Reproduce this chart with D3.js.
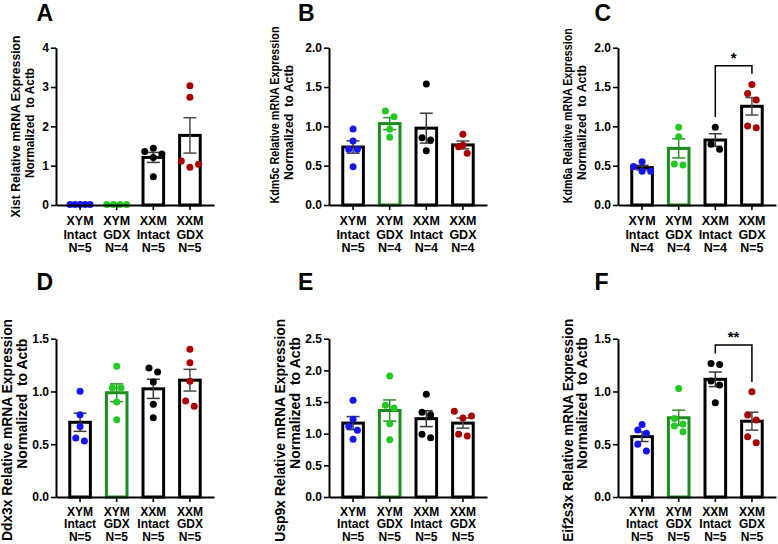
<!DOCTYPE html>
<html><head><meta charset="utf-8">
<script src="https://cdn.jsdelivr.net/npm/d3@7"></script>
<style>
body{margin:0;background:#fff}
svg{display:block}
text{font-family:"Liberation Sans",Arial,Helvetica,sans-serif;font-weight:bold;fill:#000}
</style>
</head><body>
<svg id="chart" width="778" height="544"></svg>
<script>
// ---------------- DATA ----------------
const groupNames = ["XYM Intact", "XYM GDX", "XXM Intact", "XXM GDX"];
const groupLine1 = ["XYM", "XYM", "XXM", "XXM"];
const groupLine2 = ["Intact", "GDX", "Intact", "GDX"];
const panelLetters = ["A", "B", "C", "D", "E", "F"];
const genes = ["Xist", "Kdm5c", "Kdm6a", "Ddx3x", "Usp9x", "Eif2s3x"];
const sampleSizes = [
  [5, 4, 5, 5], [5, 4, 4, 4], [4, 4, 4, 5],
  [5, 5, 5, 5], [5, 5, 5, 5], [5, 5, 5, 5]
];
const yMaxes = [4, 2, 2, 1.5, 2.5, 1.5];
const yTickValues = [
  [0, 1, 2, 3, 4],
  [0, 0.5, 1, 1.5, 2],
  [0, 0.5, 1, 1.5, 2],
  [0, 0.5, 1, 1.5],
  [0, 0.5, 1, 1.5, 2, 2.5],
  [0, 0.5, 1, 1.5]
];

// individual animals (per group)
const xistPoints = [
  [0.01, 0.01, 0.01, 0.01, 0.01],
  [0.01, 0.01, 0.01, 0.01],
  [1.44, 1.36, 1.30, 1.21, 0.72],
  [3.03, 2.74, 1.12, 1.035, 0.96]
];
const kdm5cPoints = [
  [0.966, 0.813, 0.71, 0.71, 0.487],
  [1.194, 1.122, 0.962, 0.86],
  [1.537, 0.855, 0.826, 0.69],
  [0.90, 0.76, 0.74, 0.657]
];
const kdm6aPoints = [
  [0.55, 0.49, 0.43, 0.43],
  [0.987, 0.868, 0.52, 0.508],
  [0.987, 0.771, 0.708],
  [1.533, 1.419, 1.334, 1.004, 0.983]
];
const ddx3xPoints = [
  [1.001, 0.779, 0.669, 0.559, 0.53],
  [1.238, 1.035, 1.035, 0.90, 0.732],
  [1.222, 1.184, 1.089, 0.878, 0.751],
  [1.399, 1.272, 1.096, 0.909, 0.859]
];
const usp9xPoints = [
  [1.527, 1.227, 1.117, 1.054, 0.911],
  [1.911, 1.448, 1.406, 1.158, 0.905],
  [1.622, 1.338, 1.30, 0.99, 0.937],
  [1.353, 1.28, 1.248, 0.99, 0.963]
];
const eif2s3xPoints = [
  [0.688, 0.634, 0.603, 0.499, 0.436],
  [1.029, 0.745, 0.691, 0.672, 0.618],
  [1.266, 1.256, 1.098, 1.061, 0.893],
  [0.997, 0.777, 0.729, 0.571, 0.514]
];
const pointSets = [xistPoints, kdm5cPoints, kdm6aPoints, ddx3xPoints, usp9xPoints, eif2s3xPoints];

// bar heights (mean) and error bars (SEM)
const barMeans = [
  [0.01, 0.01, 1.21, 1.77],
  [0.737, 1.035, 0.977, 0.764],
  [0.475, 0.72, 0.826, 1.255],
  [0.708, 0.988, 1.025, 1.107],
  [1.167, 1.366, 1.237, 1.167],
  [0.572, 0.751, 1.115, 0.718]
];
const barSems = [
  [0.002, 0.002, 0.127, 0.45],
  [0.078, 0.076, 0.19, 0.05],
  [0.029, 0.122, 0.08, 0.111],
  [0.086, 0.084, 0.091, 0.103],
  [0.103, 0.167, 0.125, 0.08],
  [0.046, 0.072, 0.069, 0.085]
];

// significance brackets: panel, groups, bar level, leg ends, label
const brackets = [
  {panel: 2, from: 2, to: 3, level: 1.77, leftEnd: 1.12, rightEnd: 1.67, label: "*"},
  {panel: 5, from: 2, to: 3, level: 1.44, leftEnd: 1.36, rightEnd: 1.09, label: "**"}
];

// ---------------- STYLE / LAYOUT ----------------
const pointColors = ["#1414f5", "#24c824", "#000000", "#a80000"];
const barStroke = ["#000000", "#1c8c1c", "#000000", "#000000"];
const errColor = ["#3a3a3a", "#2a8f2a", "#3a3a3a", "#4a4a4a"];
const colAxisX = [56, 329, 618];
const plotW = 158;
const rowY0 = [205, 497];
const rowY1 = [47.7, 338.7];
const letterBase = [20.7, 290.3];
const letterX = [36.5, 298, 594.5];
// y-title layout per panel: x of each line, centre (y) and drawn length of each line
const titleX = [[15.5, 29.5], [274.5, 288.5], [568, 582], [7, 22], [280.5, 295], [568, 582]];
const titleCY = [[126.5, 123], [115, 122.5], [115.8, 122.5], [430, 403.7], [430.3, 403], [430.3, 403]];
const titleLen = [[182, 110], [177, 115], [175, 115], [222, 130], [223, 132], [223, 132]];
const titleSize = [12, 13.8];
const catBase = [[20.3, 33.5, 46.7], [18.6, 31.3, 44]];
const catSize = [12.5, 12];

const svg = d3.select("#chart");

function swarm(vals, y, spacing, maxHalf, diam) {
  // Prism-like row layout: points close in y share a row, spread horizontally
  const idx = vals.map((v, i) => i).sort((a, b) => vals[a] - vals[b]);
  const rows = [];
  let cur = null;
  idx.forEach(i => {
    if (cur && Math.abs(y(vals[i]) - y(vals[cur[0]])) < diam) cur.push(i);
    else { cur = [i]; rows.push(cur); }
  });
  const off = new Array(vals.length).fill(0);
  rows.forEach(r => {
    const k = r.length;
    const slots = d3.range(k).map(j => (j - (k - 1) / 2) * spacing);
    slots.sort((a, b) => Math.abs(a) - Math.abs(b) || b - a);
    let s = 1;
    const m = d3.max(slots, Math.abs);
    if (m > maxHalf) s = maxHalf / m;
    r.forEach((i, j) => off[i] = slots[j] * s);
  });
  return off;
}

for (let p = 0; p < 6; p++) {
  const row = Math.floor(p / 3), col = p % 3;
  const ax = colAxisX[col];
  const y0 = rowY0[row], y1 = rowY1[row];
  const g = svg.append("g");

  const x = d3.scaleBand().domain(groupNames).range([ax, ax + plotW])
    .paddingInner(0.437).paddingOuter(0.376);
  const y = d3.scaleLinear().domain([0, yMaxes[p]]).range([y0, y1]);
  const bw = x.bandwidth();

  // bars
  g.selectAll("rect.bar").data(groupNames).join("rect")
    .attr("x", d => x(d)).attr("width", bw)
    .attr("y", (d, i) => y(barMeans[p][i]))
    .attr("height", (d, i) => y0 - y(barMeans[p][i]))
    .attr("fill", "#fff")
    .attr("stroke", (d, i) => barStroke[i]).attr("stroke-width", 3);

  // error bars
  groupNames.forEach((gn, i) => {
    const cx = x(gn) + bw / 2;
    const m = barMeans[p][i], s = barSems[p][i];
    const eg = g.append("g").attr("stroke", errColor[i]).attr("stroke-width", 1.5).attr("fill", "none");
    eg.append("line").attr("x1", cx).attr("x2", cx).attr("y1", y(m - s)).attr("y2", y(m + s));
    [m - s, m + s].forEach(v => eg.append("line")
      .attr("x1", cx - 6.5).attr("x2", cx + 6.5).attr("y1", y(v)).attr("y2", y(v)));
  });

  // points
  groupNames.forEach((gn, i) => {
    const vals = pointSets[p][i];
    const cx = x(gn) + bw / 2;
    const off = swarm(vals, y, 8.6, 10, 7);
    g.selectAll(null).data(vals).join("circle")
      .attr("cx", (d, j) => cx + off[j]).attr("cy", d => y(d))
      .attr("r", 3.5).attr("fill", pointColors[i]);
  });

  // axes
  const fmt = yMaxes[p] >= 4 ? d3.format("d") : d3.format(".1f");
  const yAxis = g.append("g").attr("transform", `translate(${ax},0)`)
    .call(d3.axisLeft(y).tickValues(yTickValues[p]).tickFormat(fmt)
      .tickSize(5).tickSizeOuter(0).tickPadding(2));
  const xAxis = g.append("g").attr("transform", `translate(0,${y0})`)
    .call(d3.axisBottom(x).tickFormat("").tickSize(5).tickSizeOuter(0));
  [yAxis, xAxis].forEach(a => {
    a.attr("font-family", null).attr("font-size", null);
    a.select(".domain").attr("stroke", "#000").attr("stroke-width", 2);
    a.selectAll(".tick line").attr("stroke", "#000").attr("stroke-width", 1.6);
  });
  yAxis.selectAll(".tick text").style("font-size", "12px").attr("fill", "#000");

  // category labels
  groupNames.forEach((gn, i) => {
    const cx = x(gn) + bw / 2;
    const t = g.append("text").attr("text-anchor", "middle").style("font-size", catSize[row] + "px");
    [groupLine1[i], groupLine2[i], "N=" + sampleSizes[p][i]].forEach((s, k) =>
      t.append("tspan").attr("x", cx).attr("y", y0 + catBase[row][k]).text(s));
  });

  // y title (two lines)
  [genes[p] + " Relative mRNA Expression", "Normalized  to Actb"].forEach((s, k) => {
    g.append("text").attr("text-anchor", "middle")
      .attr("transform", `translate(${titleX[p][k]},${titleCY[p][k]}) rotate(-90)`)
      .attr("dy", "0.35em")
      .attr("textLength", titleLen[p][k]).attr("lengthAdjust", "spacingAndGlyphs")
      .style("font-size", titleSize[row] + "px").style("white-space", "pre")
      .text(s);
  });

  // panel letter
  g.append("text").attr("x", letterX[col]).attr("y", letterBase[row])
    .style("font-size", "23px").text(panelLetters[p]);

  // significance brackets
  brackets.filter(b => b.panel === p).forEach(b => {
    const xa = x(groupNames[b.from]) + bw / 2, xb = x(groupNames[b.to]) + bw / 2;
    const path = d3.path();
    path.moveTo(xa, y(b.leftEnd)); path.lineTo(xa, y(b.level));
    path.lineTo(xb, y(b.level)); path.lineTo(xb, y(b.rightEnd));
    g.append("path").attr("d", path.toString()).attr("fill", "none")
      .attr("stroke", "#000").attr("stroke-width", 1.5);
    g.append("text").attr("x", (xa + xb) / 2).attr("y", y(b.level) - 3)
      .attr("text-anchor", "middle").style("font-size", "15px").text(b.label);
  });
}
</script>
</body></html>
